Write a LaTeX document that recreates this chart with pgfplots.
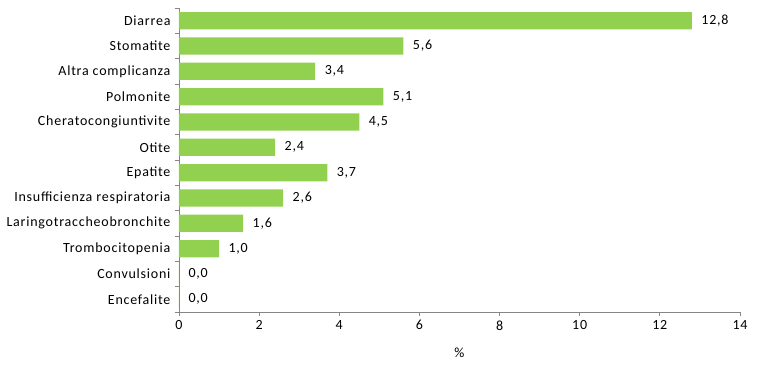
\documentclass[border=0pt]{standalone}
\usepackage{pgfplots}
\pgfplotsset{compat=1.18}
\usepackage{fontspec}
\setmainfont{Carlito}[LetterSpace=5.5]
\definecolor{barg}{HTML}{92D050}
\definecolor{axg}{HTML}{868686}
\begin{document}
\begin{tikzpicture}[x=1pt,y=1pt]
\useasboundingbox (-179,-58) rectangle (583,312);
\begin{axis}[
  at={(0,0)}, anchor=south west,
  scale only axis, width=561pt, height=304pt,
  xbar, bar width=0.68,
  xmin=0, xmax=14, xtick={0,2,...,14},
  ymin=-0.5, ymax=11.5,
  ytick={-0.5,0.5,...,10.5},
  extra y ticks={11.5}, extra y tick labels={},
  yticklabels={Encefalite,Convulsioni,Trombocitopenia,Laringotraccheobronchite,Insufficienza respiratoria,Epatite,Otite,Cheratocongiuntivite,Polmonite,Altra complicanza,Stomatite,Diarrea},
  axis x line*=bottom, axis y line*=left,
  axis line style={axg, line width=0.8pt},
  every tick/.style={axg, line width=0.8pt},
  major tick length=4pt,
  tick align=outside,
  xticklabel style={font=\fontsize{14}{16}\selectfont, yshift=-1pt},
  yticklabel style={font=\fontsize{14}{16}\selectfont, xshift=-1pt, yshift=12.67pt},
  /pgf/number format/assume math mode=true,
  xlabel={\%}, xlabel style={font=\fontsize{14}{16}\selectfont, yshift=-11pt},
  nodes near coords,
  nodes near coords style={font=\fontsize{14}{16}\selectfont, black, xshift=6pt, anchor=west,
    /pgf/number format/fixed, /pgf/number format/fixed zerofill, /pgf/number format/precision=1, /pgf/number format/use comma, /pgf/number format/assume math mode=true},
]
\addplot[draw=none, fill=barg] coordinates {
(0.0,0) (0.0,1) (1.0,2) (1.6,3) (2.6,4) (3.7,5) (2.4,6) (4.5,7) (5.1,8) (3.4,9) (5.6,10) (12.8,11)
};
\end{axis}
\end{tikzpicture}
\end{document}
